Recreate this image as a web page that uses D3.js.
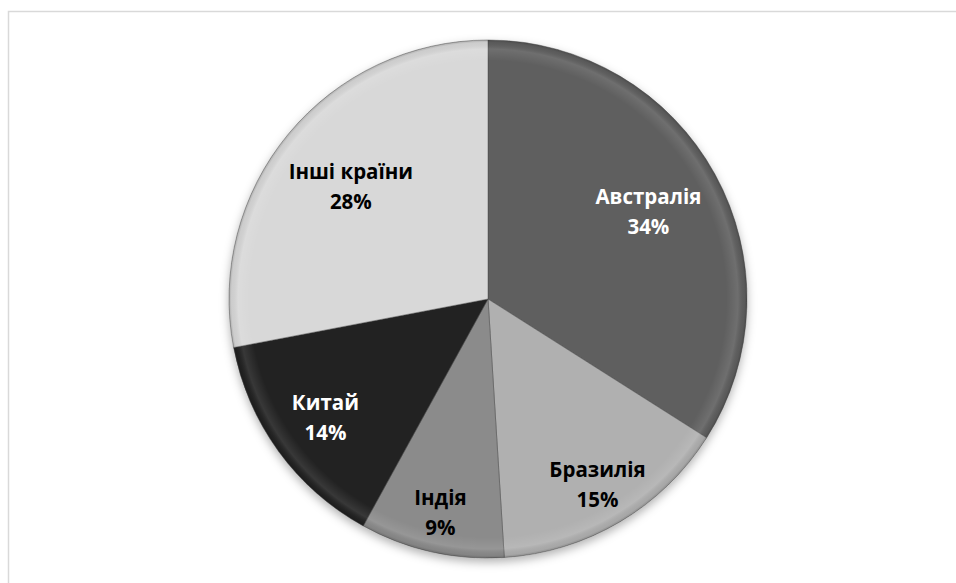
<!DOCTYPE html>
<html>
<head>
<meta charset="utf-8">
<script src="https://cdn.jsdelivr.net/npm/d3@7"></script>
<style>
  body { margin: 0; background: #fff; }
  text { font-family: "Open Sans", sans-serif; font-weight: bold; }
</style>
</head>
<body>
<div id="chart"></div>
<script>
var width = 956,
    height = 583;

var cx = 488, cy = 299, radius = 259;

// data
var countries = ["Австралія", "Бразилія", "Індія", "Китай", "Інші країни"];
var shares = [34, 15, 9, 14, 28];
var fills = ["#5f5f5f", "#b0b0b0", "#8b8b8b", "#242424", "#d8d8d8"];
var labelColors = ["#fff", "#000", "#000", "#fff", "#000"];
// distance of each label from the centre (layout only)
var labelR = [183, 215, 218, 201, 178];

var svg = d3.select("#chart").append("svg")
    .attr("width", width)
    .attr("height", height)

// frame of the chart area
svg.append("path")
    .attr("d", "M8.5," + height + "V11.5H" + width)
    .attr("fill", "none")
    .attr("stroke", "#d9d9d9")
    .attr("stroke-width", 1.5)

var defs = svg.append("defs");

var shadow = defs.append("filter").attr("id", "shadow")
    .attr("x", "-10%").attr("y", "-10%").attr("width", "120%").attr("height", "125%");
shadow.append("feDropShadow")
    .attr("dx", 0).attr("dy", 4).attr("stdDeviation", 5)
    .attr("flood-color", "#000").attr("flood-opacity", 0.3);

// bevel: light inner band, dark rim
var bevel = defs.append("radialGradient").attr("id", "bevel")
    .attr("gradientUnits", "userSpaceOnUse")
    .attr("cx", 0).attr("cy", 0).attr("r", radius);
bevel.append("stop").attr("offset", "0.92").attr("stop-color", "#fff").attr("stop-opacity", 0);
bevel.append("stop").attr("offset", "0.965").attr("stop-color", "#fff").attr("stop-opacity", 0.1);
bevel.append("stop").attr("offset", "0.99").attr("stop-color", "#000").attr("stop-opacity", 0.05);
bevel.append("stop").attr("offset", "1").attr("stop-color", "#000").attr("stop-opacity", 0.2);

var pie = d3.pie().sort(null).value(function(d) { return d; });
var arcs = pie(shares);

var arc = d3.arc().innerRadius(0).outerRadius(radius);

var g = svg.append("g")
    .attr("transform", "translate(" + cx + "," + cy + ")");

var slices = g.append("g").attr("filter", "url(#shadow)");

slices.selectAll("path.slice")
  .data(arcs)
  .enter().append("path")
    .attr("class", "slice")
    .attr("d", arc)
    .attr("fill", function(d, i) { return fills[i]; })
    .attr("stroke", "#4a4a4a")
    .attr("stroke-opacity", 0.45)
    .attr("stroke-width", 1)

g.selectAll("path.bevel")
  .data(arcs)
  .enter().append("path")
    .attr("class", "bevel")
    .attr("d", arc)
    .attr("fill", "url(#bevel)")
    .attr("pointer-events", "none")

var labels = g.selectAll("text.lbl")
  .data(arcs)
  .enter().append("text")
    .attr("class", "lbl")
    .attr("text-anchor", "middle")
    .attr("font-size", 20.5)
    .attr("fill", function(d, i) { return labelColors[i]; })
    .attr("transform", function(d, i) {
      var c = d3.arc().innerRadius(labelR[i]).outerRadius(labelR[i]).centroid(d);
      return "translate(" + c[0] + "," + c[1] + ")";
    });

labels.append("tspan")
    .attr("x", 0)
    .attr("y", -7)
    .text(function(d, i) { return countries[i]; });

labels.append("tspan")
    .attr("x", 0)
    .attr("y", 23)
    .text(function(d, i) { return shares[i] + "%"; });
</script>
</body>
</html>
